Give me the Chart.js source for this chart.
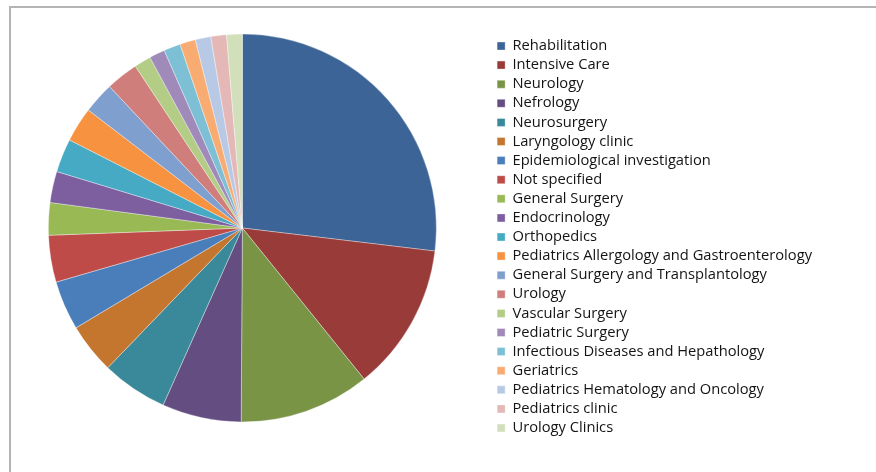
<!DOCTYPE html>
<html>
<head>
<meta charset="utf-8">
<script src="https://cdn.jsdelivr.net/npm/chart.js@4/dist/chart.umd.min.js"></script>
<style>
  html, body { margin: 0; padding: 0; background: #fff; overflow: hidden; width: 876px; height: 472px; }
  #frame { position: absolute; left: 9px; top: 6px; width: 865px; height: 464px;
           border-top: 2px solid #b4b4b4; border-left: 2px solid #b4b4b4; }
  #wrap { position: absolute; left: -8px; top: 0; width: 884px; height: 472px; }
</style>
</head>
<body>
<div id="frame"></div>
<div id="wrap"><canvas id="pie" width="884" height="472"></canvas></div>
<script>
// departments, in the order of the legend
var departments = [
  'Rehabilitation', 'Intensive Care', 'Neurology', 'Nefrology', 'Neurosurgery',
  'Laryngology clinic', 'Epidemiological investigation', 'Not specified',
  'General Surgery', 'Endocrinology', 'Orthopedics',
  'Pediatrics Allergology and Gastroenterology', 'General Surgery and Transplantology',
  'Urology', 'Vascular Surgery', 'Pediatric Surgery',
  'Infectious Diseases and Hepathology', 'Geriatrics',
  'Pediatrics Hematology and Oncology', 'Pediatrics clinic', 'Urology Clinics'
];
// share of cases, %
var shares = [26.9, 12.3, 10.9, 6.6, 5.5, 4.2, 4.1, 3.9, 2.7, 2.6, 2.8,
              2.9, 2.6, 2.7, 1.4, 1.3, 1.4, 1.3, 1.3, 1.3, 1.3];
var sliceColors = [
  '#3c6496', '#983b39', '#7a9446', '#644d80', '#3a899a', '#c4762f',
  '#4a7ebb', '#be4b48', '#98b954', '#7d5fa0', '#46aac5', '#f69240',
  '#7f9fcf', '#cf7e7c', '#b3cd86', '#9f8ab9', '#7dc0d6', '#f9ac72',
  '#b8c9e5', '#e3b8b7', '#d1e0ba'
];

new Chart(document.getElementById('pie'), {
  type: 'pie',
  data: {
    labels: departments,
    datasets: [{
      data: shares,
      backgroundColor: sliceColors,
      borderColor: 'rgba(255,255,255,0.35)',
      borderWidth: 1
    }]
  },
  options: {
    responsive: false,
    animation: false,
    radius: 194,
    layout: { padding: { left: 0, right: 54, top: 10, bottom: 26 } },
    plugins: {
      tooltip: { enabled: false },
      legend: {
        position: 'right',
        align: 'center',
        title: { display: true, text: ' ', padding: 0, font: { size: 15 } },
        labels: {
          boxWidth: 8, boxHeight: 8, padding: 4.4,
          color: '#141414',
          font: { family: 'Open Sans', size: 14.7 }
        }
      }
    }
  }
});
</script>
</body>
</html>
